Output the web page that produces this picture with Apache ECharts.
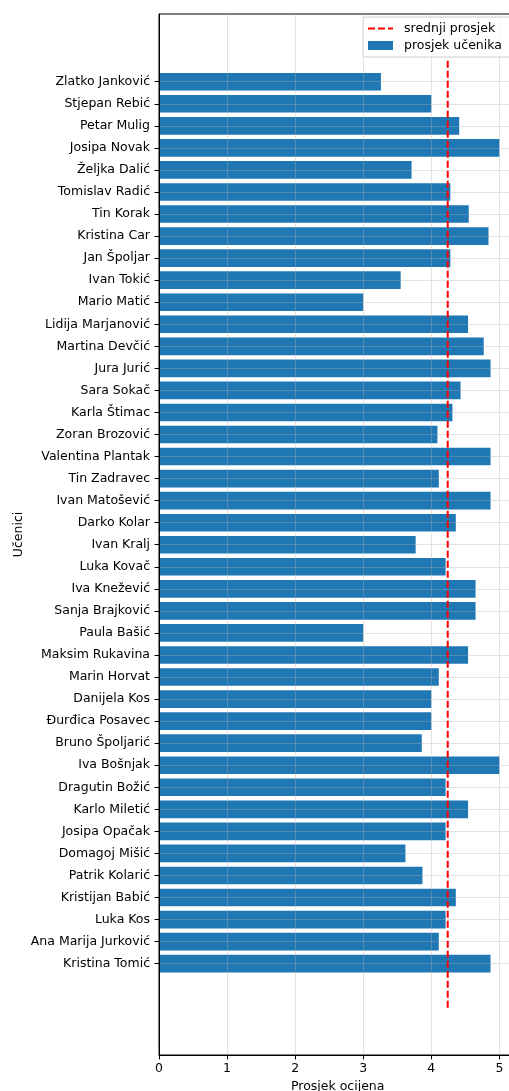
<!DOCTYPE html>
<html>
<head>
<meta charset="utf-8">
<script src="https://cdn.jsdelivr.net/npm/echarts@6/dist/echarts.min.js"></script>
<style>
  html, body { margin: 0; padding: 0; background: #fff; }
  #chart { width: 509px; height: 1091px; }
</style>
</head>
<body>
<div id="chart"></div>
<script>
// imena od vrha prema dnu
var ucenici = [
  'Zlatko Janković', 'Stjepan Rebić', 'Petar Mulig', 'Josipa Novak', 'Željka Dalić',
  'Tomislav Radić', 'Tin Korak', 'Kristina Car', 'Jan Špoljar', 'Ivan Tokić',
  'Mario Matić', 'Lidija Marjanović', 'Martina Devčić', 'Jura Jurić', 'Sara Sokač',
  'Karla Štimac', 'Zoran Brozović', 'Valentina Plantak', 'Tin Zadravec', 'Ivan Matošević',
  'Darko Kolar', 'Ivan Kralj', 'Luka Kovač', 'Iva Knežević', 'Sanja Brajković',
  'Paula Bašić', 'Maksim Rukavina', 'Marin Horvat', 'Danijela Kos', 'Đurđica Posavec',
  'Bruno Špoljarić', 'Iva Bošnjak', 'Dragutin Božić', 'Karlo Miletić', 'Josipa Opačak',
  'Domagoj Mišić', 'Patrik Kolarić', 'Kristijan Babić', 'Luka Kos', 'Ana Marija Jurković',
  'Kristina Tomić'
];

var prosjeci = [
  3.26, 4.00, 4.41, 5.00, 3.71,
  4.28, 4.55, 4.84, 4.28, 3.55,
  3.00, 4.54, 4.77, 4.87, 4.43,
  4.31, 4.09, 4.87, 4.11, 4.87,
  4.36, 3.77, 4.21, 4.65, 4.65,
  3.00, 4.54, 4.11, 4.00, 4.00,
  3.86, 5.00, 4.21, 4.54, 4.21,
  3.62, 3.87, 4.36, 4.21, 4.11,
  4.87
];

var xTicks = [0, 1, 2, 3, 4, 5];

// srednji prosjek svih ucenika
var srednji = prosjeci.reduce(function (a, b) { return a + b; }, 0) / prosjeci.length;
// okomita crta ide od -2 do broja ucenika (indeks 0 = dno)
var crtaOd = -2;
var crtaDo = ucenici.length;

var font = 'DejaVu Sans';
var gridCol = 'rgba(176,176,176,0.35)';

var chart = echarts.init(document.getElementById('chart'));

var option = {
  animation: false,
  backgroundColor: '#fff',
  textStyle: { fontFamily: font },
  legend: {
    orient: 'vertical',
    left: 363,
    top: 17,
    padding: [5, 12, 5, 4],
    itemWidth: 25,
    itemHeight: 9,
    itemGap: 4,
    backgroundColor: 'rgba(255,255,255,0.8)',
    borderColor: '#cccccc',
    borderWidth: 1,
    borderRadius: 3,
    z: 10,
    textStyle: { fontFamily: font, fontSize: 12.5, color: '#000', padding: [0, 0, 0, 6] },
    data: [
      { name: 'srednji prosjek', itemStyle: { opacity: 0 } },
      { name: 'prosjek učenika', icon: 'rect' }
    ]
  },
  grid: [
    { // okvir
      left: 159, right: -7.4, top: 14, bottom: 36,
      show: true, borderColor: '#000', borderWidth: 1, backgroundColor: 'transparent',
      containLabel: false, outerBoundsMode: 'none'
    },
    { // stupci
      left: 159, right: -7.4, top: 70.7, bottom: 116.3,
      containLabel: false, outerBoundsMode: 'none'
    }
  ],
  xAxis: [
    {
      gridIndex: 0,
      type: 'value',
      min: 0,
      max: 5.25,
      interval: 1,
      z: 3,
      name: 'Prosjek ocijena',
      nameLocation: 'middle',
      nameGap: 18,
      nameTextStyle: { fontFamily: font, fontSize: 12.5, color: '#000' },
      axisLine: { show: true, onZero: false, lineStyle: { color: '#000', width: 1 } },
      axisTick: { show: true, length: 4.4, lineStyle: { color: '#000', width: 1 } },
      axisLabel: {
        fontFamily: font, fontSize: 12.5, color: '#000', margin: 7,
        showMaxLabel: false,
        formatter: function (v) { return xTicks.indexOf(v) >= 0 ? String(v) : ''; }
      },
      splitLine: { show: true, lineStyle: { color: gridCol, width: 1 } }
    },
    {
      gridIndex: 1,
      type: 'value',
      min: 0,
      max: 5.25,
      show: false
    }
  ],
  yAxis: [
    {
      gridIndex: 0,
      type: 'value',
      min: -4.14,
      max: 43.07,
      z: 3,
      name: 'Učenici',
      nameLocation: 'middle',
      nameGap: 134,
      nameTextStyle: { fontFamily: font, fontSize: 12.5, color: '#000' },
      axisLine: { show: true, onZero: false, lineStyle: { color: '#000', width: 1 } },
      axisTick: { show: false },
      axisLabel: { show: false },
      splitLine: { show: false }
    },
    {
      gridIndex: 1,
      type: 'category',
      inverse: true,
      data: ucenici,
      z: 3,
      axisLine: { show: false },
      axisTick: { show: true, alignWithLabel: true, length: 4.4, lineStyle: { color: '#000', width: 1 } },
      axisLabel: { interval: 0, fontFamily: font, fontSize: 12.5, color: '#000', margin: 9 },
      splitLine: { show: true, alignWithLabel: true, interval: 0, lineStyle: { color: gridCol, width: 1 } }
    }
  ],
  series: [
    {
      name: 'prosjek učenika',
      type: 'bar',
      xAxisIndex: 1,
      yAxisIndex: 1,
      data: prosjeci,
      barCategoryGap: '20%',
      clip: false,
      itemStyle: { color: '#1f77b4' },
      z: 2
    },
    {
      name: 'srednji prosjek',
      type: 'line',
      xAxisIndex: 0,
      yAxisIndex: 0,
      data: [[srednji, crtaOd], [srednji, crtaDo]],
      symbol: 'none',
      lineStyle: { color: '#ff0000', width: 2, type: [7, 3] },
      z: 5
    }
  ]
};

chart.setOption(option);
</script>
</body>
</html>
